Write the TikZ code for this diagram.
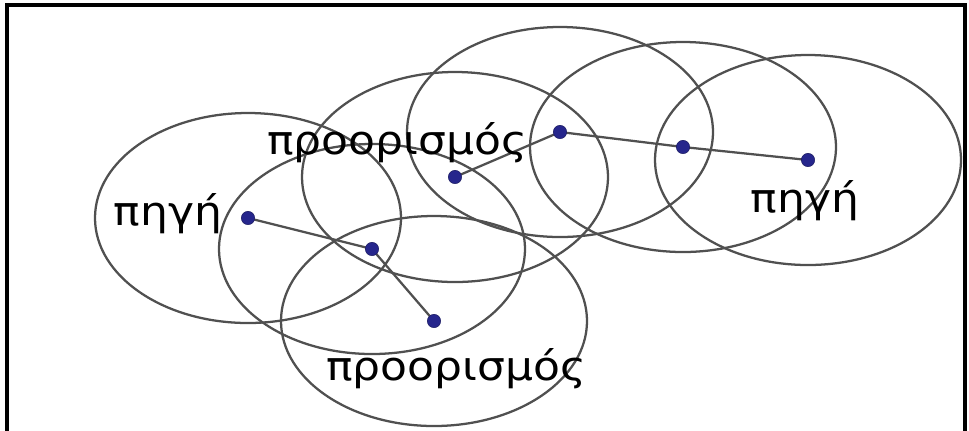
\documentclass[tikz,border=0pt]{standalone}
\usepackage{fontspec}
\setmainfont{DejaVu Sans}
\usepackage{tikz}
\usetikzlibrary{calc}

\definecolor{dotblue}{RGB}{38,38,140}
\definecolor{rangegray}{RGB}{80,80,80}

\begin{document}
\begin{tikzpicture}[x=0.75pt,y=-0.75pt,
    coverage/.style={rangegray,line width=1.7pt},
    link/.style={rangegray,line width=1.7pt},
    station/.style={circle,fill=dotblue,draw=dotblue!70!black,inner sep=0pt,minimum size=10pt},
    tag/.style={font=\fontsize{30}{30}\selectfont,xscale=1.1,inner sep=0pt}]
			\useasboundingbox (0,0) rectangle (969,430);
			
			% πλαίσιο
			\draw[line width=2.6pt] (7,432) |- (965,5) -- (965,432);
			
			\coordinate (src1) at (248,218);
			\coordinate (hop1) at (372,249);
			\coordinate (dst1) at (434,321);
			\coordinate (dst2) at (455,177);
			\coordinate (hop2) at (560,132);
			\coordinate (hop3) at (683,147);
			\coordinate (src2) at (808,160);
			
			% εμβέλεια κάθε κόμβου
			\foreach \n in {src1,hop1,dst1,dst2,hop2,hop3,src2}
				\draw[coverage] (\n) ellipse (153 and 105);
			
			\draw[link] (src1)--(hop1);
			\draw[link] (hop1)--(dst1);
			\draw[link] (dst2)--(hop2);
			\draw[link] (hop2)--(hop3);
			\draw[link] (hop3)--(src2);
			
			\foreach \n in {src1,hop1,dst1,dst2,hop2,hop3,src2}
				\node[station] at (\n) {};
			
			\node[tag] (srcA) at (168,214) {πηγή};
			\node[tag] (srcB) at (805,201) {πηγή};
			\node[tag] (dstA) at (397,143) {προορισμός};
			\node[tag] (dstB) at (456,369) {προορισμός};
		\end{tikzpicture}
\end{document}
